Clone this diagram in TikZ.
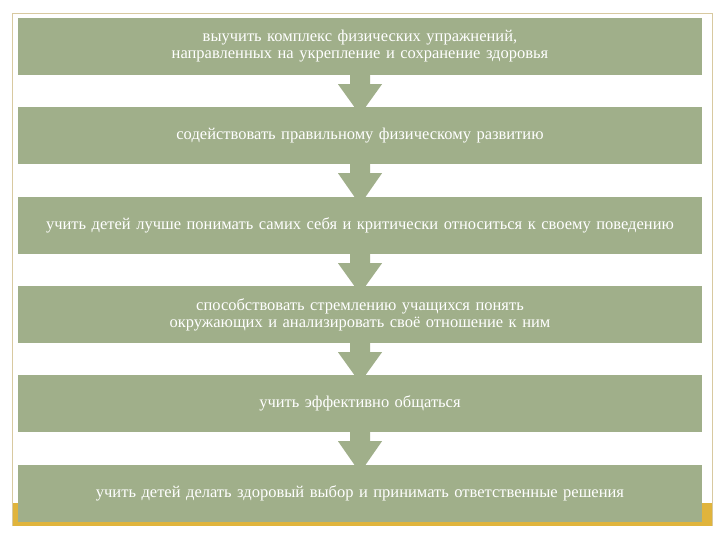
\documentclass[tikz,border=0pt]{standalone}
\usepackage{fontspec}
\setmainfont{Liberation Serif}
\begin{document}
\begin{tikzpicture}[x=1pt,y=-1pt,
 box/.style={fill=sage,text=white,minimum width=684pt,minimum height=57pt,text width=660pt,align=center,inner sep=0pt,font=\fontsize{16.5}{17}\selectfont},
 arr/.style={fill=sage}]
\definecolor{sage}{HTML}{A0AF8A}
\definecolor{gold}{HTML}{E0B43C}
\definecolor{frame}{HTML}{D8C9A0}
\useasboundingbox (0,0) rectangle (720,540);
\fill[white] (0,0) rectangle (720,540);
\fill[gold] (12,503) rectangle (712,526);
\draw[frame] (12,526) -- (12,13) -- (712,13) -- (712,526);
\node[box] (b1) at (360,46.5) {выучить комплекс физических упражнений, направленных на укрепление и сохранение здоровья};
\node[box] (b2) at (360,135.5) {содействовать правильному физическому развитию};
\node[box] (b3) at (360,225.5) {учить детей лучше понимать самих себя и критически относиться к своему поведению};
\node[box] (b4) at (360,314.5) {способствовать стремлению учащихся понять окружающих и анализировать своё отношение к ним};
\node[box] (b5) at (360,403.5) {учить эффективно общаться};
\node[box] (b6) at (360,493.5) {учить детей делать здоровый выбор и принимать ответственные решения};
\foreach \a/\b in {b1/b2,b2/b3,b3/b4,b4/b5,b5/b6}{
 \fill[sage] ([xshift=-10pt]\a.south) -- ([xshift=-10pt,yshift=-9pt]\a.south) -- ([xshift=-22pt,yshift=-9pt]\a.south)
   -- ([yshift=-8pt]\b.north) -- ([xshift=22pt,yshift=-9pt]\a.south) -- ([xshift=10pt,yshift=-9pt]\a.south) -- ([xshift=10pt]\a.south) -- cycle;
}
\end{tikzpicture}
\end{document}
